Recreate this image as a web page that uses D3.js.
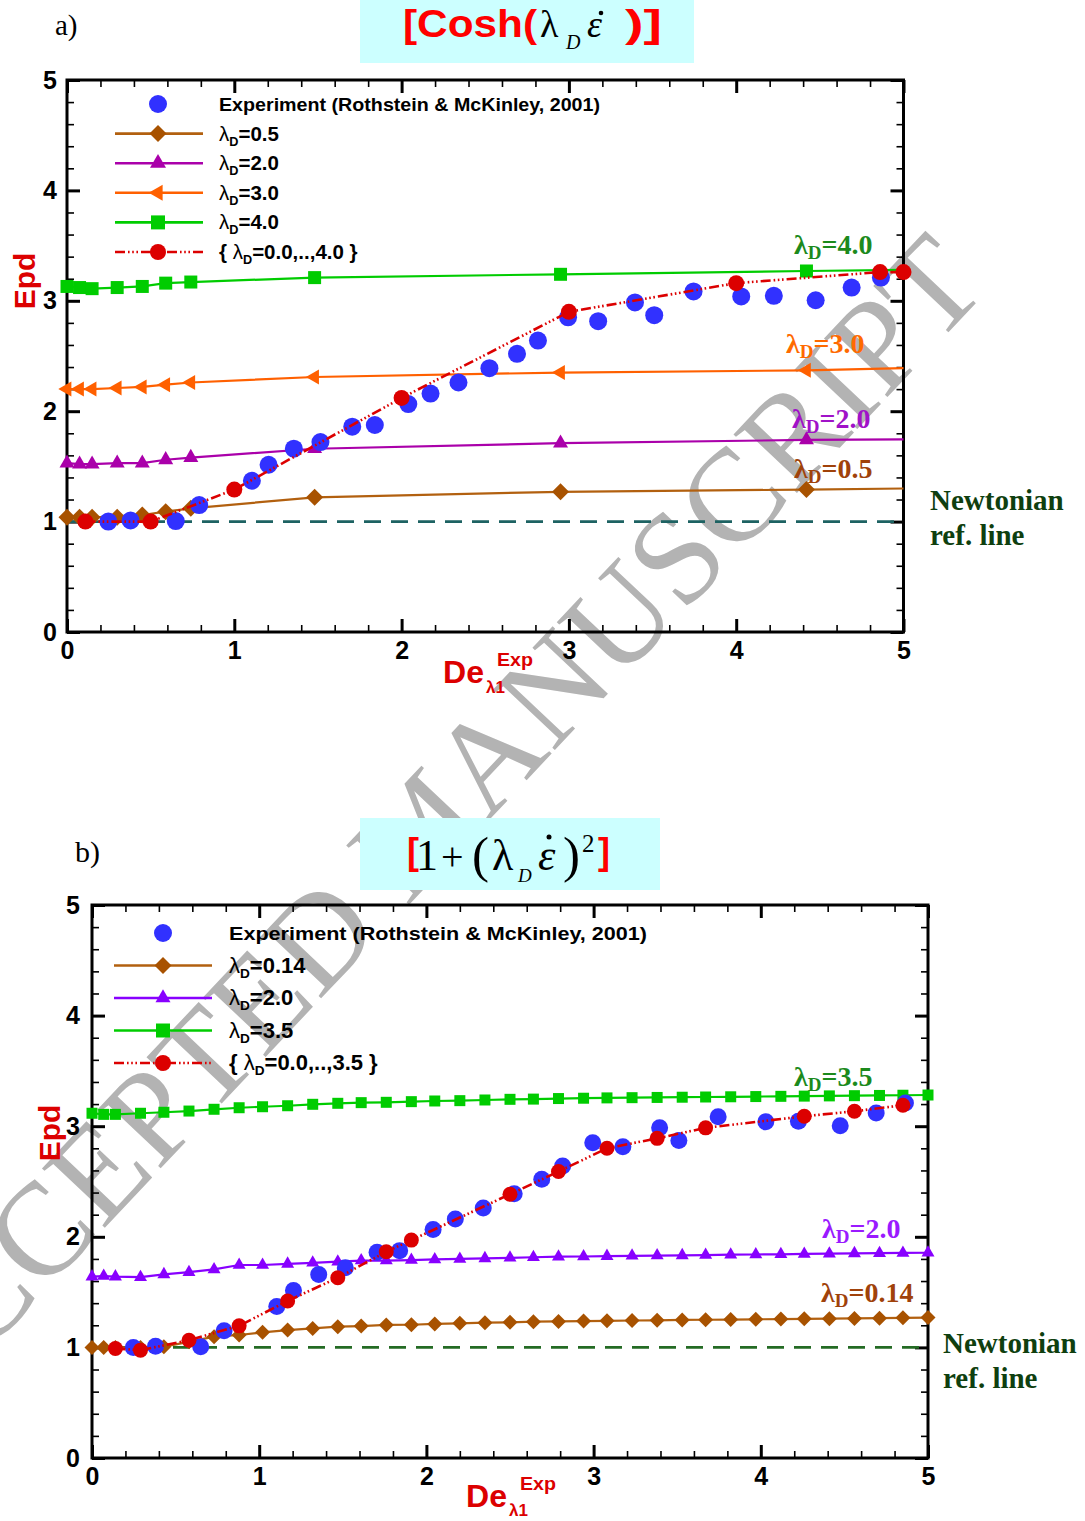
<!DOCTYPE html>
<html>
<head>
<meta charset="utf-8">
<script src="https://cdn.jsdelivr.net/npm/d3@7"></script>
<style>
  html, body { margin: 0; padding: 0; background: #fff; }
  svg { display: block; }
</style>
</head>
<body>
<svg id="fig" width="1085" height="1521"></svg>
<script>
// ---------- tick values ----------
const X_TICKS = [0, 1, 2, 3, 4, 5];
const Y_TICKS = [0, 1, 2, 3, 4, 5];

// ---------- experiment (Rothstein & McKinley, 2001) ----------
const expDe  = [0.247, 0.38, 0.65, 0.79, 1.105, 1.205, 1.356, 1.515, 1.705, 1.84, 2.04, 2.173, 2.34,
                2.525, 2.69, 2.815, 2.995, 3.175, 3.395, 3.51, 3.745, 4.03, 4.225, 4.475, 4.69, 4.865];
const expEpd = [1.00, 1.01, 1.005, 1.15, 1.37, 1.515, 1.66, 1.72, 1.86, 1.875, 2.065, 2.16, 2.26,
                2.39, 2.52, 2.64, 2.85, 2.815, 2.985, 2.87, 3.085, 3.04, 3.045, 3.005, 3.12, 3.21];

// ---------- (a) Cosh(lambda_D * strain rate) ----------
const coshDe  = [0, 0.075, 0.15, 0.3, 0.45, 0.59, 0.74, 1.48, 2.95, 4.42, 5.0];
const coshL05 = [1.04, 1.04, 1.04, 1.04, 1.06, 1.09, 1.12, 1.22, 1.27, 1.29, 1.30];
const coshL20 = [1.53, 1.52, 1.52, 1.53, 1.53, 1.56, 1.58, 1.66, 1.71, 1.74, 1.745];
const coshL30 = [2.20, 2.20, 2.20, 2.21, 2.22, 2.24, 2.26, 2.31, 2.35, 2.37, 2.39];
const coshL40 = [3.13, 3.12, 3.11, 3.12, 3.13, 3.16, 3.17, 3.21, 3.24, 3.27, 3.28];
const coshFitDe  = [0.11, 0.5, 1.0, 2.0, 3.0, 4.0, 4.86, 5.0];
const coshFitEpd = [1.0, 1.0, 1.29, 2.12, 2.90, 3.16, 3.26, 3.26];
const coshLabels = ["0.5", "2.0", "3.0", "4.0"];

// ---------- (b) 1 + (lambda_D * strain rate)^2 ----------
const quadDe = [0, 0.07, 0.14, 0.29, 0.43, 0.58, 0.73, 0.88, 1.02, 1.17, 1.32, 1.47, 1.61, 1.76, 1.91, 2.05,
                2.2, 2.35, 2.5, 2.64, 2.79, 2.94, 3.08, 3.23, 3.38, 3.53, 3.67, 3.82, 3.97, 4.12, 4.26,
                4.41, 4.56, 4.71, 4.85, 5.0];
const quadL014 = [0.998, 0.998, 1.0, 1.0, 1.007, 1.05, 1.097, 1.112, 1.136, 1.157, 1.172, 1.187, 1.193,
                  1.203, 1.205, 1.212, 1.218, 1.224, 1.227, 1.233, 1.235, 1.238, 1.24, 1.243, 1.245, 1.248,
                  1.25, 1.252, 1.254, 1.256, 1.258, 1.26, 1.262, 1.264, 1.267, 1.27];
const quadL20 = [1.64, 1.645, 1.64, 1.635, 1.66, 1.68, 1.705, 1.745, 1.745, 1.755, 1.765, 1.775, 1.785,
                 1.785, 1.79, 1.795, 1.80, 1.805, 1.81, 1.815, 1.82, 1.822, 1.825, 1.828, 1.83, 1.832,
                 1.835, 1.838, 1.84, 1.842, 1.845, 1.847, 1.85, 1.852, 1.854, 1.856];
const quadL35 = [3.117, 3.107, 3.107, 3.117, 3.126, 3.137, 3.153, 3.167, 3.176, 3.185, 3.198, 3.207, 3.213,
                 3.216, 3.222, 3.228, 3.231, 3.237, 3.243, 3.245, 3.25, 3.253, 3.256, 3.258, 3.26, 3.262,
                 3.264, 3.266, 3.268, 3.27, 3.272, 3.274, 3.276, 3.278, 3.28, 3.282];
const quadFitDe  = [0.14, 0.29, 0.58, 0.88, 1.17, 1.47, 1.76, 1.91, 2.5, 2.79, 3.08, 3.38, 3.67, 4.26, 4.56, 4.85];
const quadFitEpd = [0.99, 0.975, 1.065, 1.195, 1.42, 1.63, 1.865, 1.97, 2.385, 2.59, 2.80, 2.89, 2.985, 3.09, 3.135, 3.19];
const quadLabels = ["0.14", "2.0", "3.5"];

const EXP_LEGEND = "Experiment (Rothstein & McKinley, 2001)";
const NEWTONIAN = 1;

// ---------- fonts / colours ----------
const SANS = "'Liberation Sans', Arial, Helvetica, sans-serif";
const SERIF = "'Liberation Serif', 'Times New Roman', serif";
const BLUE = "#3131ff", RED = "#dc0000";

const svg = d3.select("#fig");
svg.append("rect").attr("width", 1085).attr("height", 1521).attr("fill", "#fff");

// ---------- marker shapes (centred on the data point) ----------
const markerPath = {
  square: s => `M${-s / 2},${-s / 2}h${s}v${s}h${-s}Z`,
  diamond: s => `M0,${-s / 2}L${s / 2},0L0,${s / 2}L${-s / 2},0Z`,
  triUp: s => { const h = s * 0.87; return `M0,${-2 * h / 3}L${s / 2},${h / 3}L${-s / 2},${h / 3}Z`; },
  triLeft: s => { const w = s * 0.87; return `M${-2 * w / 3},0L${w / 3},${-s / 2}L${w / 3},${s / 2}Z`; }
};

// ---------- watermark (underneath everything else) ----------
svg.append("text")
  .attr("transform", "translate(-84,1428) rotate(-46.7)")
  .attr("font-family", SERIF).attr("font-size", 132)
  .attr("fill", "#b3b3b3")
  .text("ACCEPTED MANUSCRIPT");

// ---------- title boxes ----------
svg.append("rect").attr("x", 360).attr("y", 0).attr("width", 334).attr("height", 63).attr("fill", "#ccffff");
svg.append("rect").attr("x", 360).attr("y", 818).attr("width", 300).attr("height", 72).attr("fill", "#ccffff");

// ---------- title (a) ----------
const ta = svg.append("g");
ta.append("text").attr("x", 55).attr("y", 35).attr("font-family", SERIF).attr("font-size", 29).attr("fill", "#000").text("a)");
ta.append("text").attr("x", 403).attr("y", 37).attr("font-family", SANS).attr("font-weight", "bold")
  .attr("font-size", 38).attr("fill", "#ff0000").attr("textLength", 134).attr("lengthAdjust", "spacingAndGlyphs").text("[Cosh(");
ta.append("text").attr("x", 540).attr("y", 37).attr("font-family", SERIF).attr("font-size", 38).attr("fill", "#000").text("λ");
ta.append("text").attr("x", 566).attr("y", 49).attr("font-family", SERIF).attr("font-style", "italic").attr("font-size", 20).attr("fill", "#000").text("D");
ta.append("text").attr("x", 587).attr("y", 37).attr("font-family", SERIF).attr("font-style", "italic").attr("font-size", 38).attr("fill", "#000").text("ε");
ta.append("circle").attr("cx", 601).attr("cy", 13).attr("r", 2.3).attr("fill", "#000");
ta.append("text").attr("x", 625).attr("y", 37).attr("font-family", SANS).attr("font-weight", "bold")
  .attr("font-size", 38).attr("fill", "#ff0000").attr("textLength", 37).attr("lengthAdjust", "spacingAndGlyphs").text(")]");

// ---------- title (b) ----------
const tb = svg.append("g");
tb.append("text").attr("x", 75).attr("y", 862).attr("font-family", SERIF).attr("font-size", 30).attr("fill", "#000").text("b)");
tb.append("text").attr("x", 407).attr("y", 864).attr("font-family", SANS).attr("font-weight", "bold").attr("font-size", 36).attr("fill", "#ff0000").text("[");
tb.append("text").attr("x", 416).attr("y", 870).attr("font-family", SERIF).attr("font-size", 44).attr("fill", "#000").text("1");
tb.append("text").attr("x", 441).attr("y", 870).attr("font-family", SERIF).attr("font-size", 40).attr("fill", "#000").text("+");
tb.append("text").attr("x", 472).attr("y", 872).attr("font-family", SERIF).attr("font-size", 51).attr("fill", "#000").text("(");
tb.append("text").attr("x", 492).attr("y", 870).attr("font-family", SERIF).attr("font-size", 44).attr("fill", "#000").text("λ");
tb.append("text").attr("x", 518).attr("y", 882).attr("font-family", SERIF).attr("font-style", "italic").attr("font-size", 19).attr("fill", "#000").text("D");
tb.append("text").attr("x", 538).attr("y", 870).attr("font-family", SERIF).attr("font-style", "italic").attr("font-size", 44).attr("fill", "#000").text("ε");
tb.append("circle").attr("cx", 549).attr("cy", 837).attr("r", 2.5).attr("fill", "#000");
tb.append("text").attr("x", 563).attr("y", 872).attr("font-family", SERIF).attr("font-size", 51).attr("fill", "#000").text(")");
tb.append("text").attr("x", 582).attr("y", 852).attr("font-family", SERIF).attr("font-size", 25).attr("fill", "#000").text("2");
tb.append("text").attr("x", 598).attr("y", 864).attr("font-family", SANS).attr("font-weight", "bold").attr("font-size", 36).attr("fill", "#ff0000").text("]");

// ---------- helpers ----------
function lamLabel(sel, x, y, pre, post, o) {
  const t = sel.append("text").attr("x", x).attr("y", y).attr("fill", o.fill)
    .attr("font-family", o.family).attr("font-weight", o.weight).attr("font-size", o.size);
  if (pre) t.append("tspan").text(pre);
  t.append("tspan").attr("font-family", o.lamFamily || o.family).attr("font-weight", o.lamWeight || o.weight).text("λ");
  t.append("tspan").attr("font-size", o.subSize).attr("dy", o.subDy).text("D");
  t.append("tspan").attr("dy", -o.subDy).text(post);
  return t;
}

function drawPanel(cfg) {
  const x = d3.scaleLinear().domain([0, 5]).range([cfg.x0, cfg.x1]);
  const y = d3.scaleLinear().domain([0, 5]).range([cfg.y0, cfg.y1]);
  const g = svg.append("g");
  const line = d3.line().x(d => x(d[0])).y(d => y(d[1]));

  // axes: major + minor inward ticks on all four sides
  const styleAxis = (ag, major) => {
    ag.select(".domain").remove();
    ag.selectAll(".tick line").attr("stroke", "#000").attr("stroke-width", major ? 3 : 1.6);
  };
  const minorX = x.ticks(25).filter(v => !X_TICKS.includes(v));
  const minorY = y.ticks(25).filter(v => !Y_TICKS.includes(v));
  const axes = g.append("g");
  const bottom = axes.append("g").attr("transform", `translate(0,${cfg.y0})`)
    .call(d3.axisBottom(x).tickValues(X_TICKS).tickSize(-13).tickPadding(cfg.xPad).tickFormat(d3.format("d")));
  styleAxis(bottom, true);
  bottom.attr("font-family", SANS).attr("font-weight", "bold").attr("font-size", 25);
  bottom.selectAll("text").attr("fill", "#000");
  const left = axes.append("g").attr("transform", `translate(${cfg.x0},0)`)
    .call(d3.axisLeft(y).tickValues(Y_TICKS).tickSize(-13).tickPadding(cfg.yPad).tickFormat(d3.format("d")));
  styleAxis(left, true);
  left.attr("font-family", SANS).attr("font-weight", "bold").attr("font-size", 25);
  left.selectAll("text").attr("fill", "#000");
  styleAxis(axes.append("g").attr("transform", `translate(0,${cfg.y1})`)
    .call(d3.axisTop(x).tickValues(X_TICKS).tickSize(-13).tickFormat("")), true);
  styleAxis(axes.append("g").attr("transform", `translate(${cfg.x1},0)`)
    .call(d3.axisRight(y).tickValues(Y_TICKS).tickSize(-13).tickFormat("")), true);
  styleAxis(axes.append("g").attr("transform", `translate(0,${cfg.y0})`)
    .call(d3.axisBottom(x).tickValues(minorX).tickSize(-7).tickFormat("")), false);
  styleAxis(axes.append("g").attr("transform", `translate(0,${cfg.y1})`)
    .call(d3.axisTop(x).tickValues(minorX).tickSize(-7).tickFormat("")), false);
  styleAxis(axes.append("g").attr("transform", `translate(${cfg.x0},0)`)
    .call(d3.axisLeft(y).tickValues(minorY).tickSize(-7).tickFormat("")), false);
  styleAxis(axes.append("g").attr("transform", `translate(${cfg.x1},0)`)
    .call(d3.axisRight(y).tickValues(minorY).tickSize(-7).tickFormat("")), false);
  g.append("rect").attr("x", cfg.x0).attr("y", cfg.y1).attr("width", cfg.x1 - cfg.x0).attr("height", cfg.y0 - cfg.y1)
    .attr("fill", "none").attr("stroke", "#000").attr("stroke-width", 3);

  // Newtonian reference
  g.append("path").attr("d", line([[0, NEWTONIAN], [5, NEWTONIAN]]))
    .attr("stroke", cfg.newtColor).attr("stroke-width", 2.6).attr("stroke-dasharray", "17,10").attr("fill", "none");

  // model curves
  cfg.series.forEach(s => {
    const pts = cfg.de.map((d, i) => [d, s.vals[i]]);
    g.append("path").attr("d", line(pts)).attr("fill", "none").attr("stroke", s.color).attr("stroke-width", 2.2);
    const mp = cfg.markLast ? pts : pts.slice(0, -1);
    g.append("g").selectAll("path").data(mp).join("path")
      .attr("transform", d => `translate(${x(d[0])},${y(d[1])})`)
      .attr("d", markerPath[s.marker](s.size)).attr("fill", s.fill);
  });

  // experiment
  g.append("g").selectAll("circle").data(expDe.map((d, i) => [d, expEpd[i]])).join("circle")
    .attr("cx", d => x(d[0])).attr("cy", d => y(d[1])).attr("r", cfg.expR).attr("fill", BLUE);

  // variable lambda_D fit
  const fit = cfg.fitDe.map((d, i) => [d, cfg.fitEpd[i]]);
  g.append("path").attr("d", line(fit)).attr("fill", "none").attr("stroke", RED)
    .attr("stroke-width", 2.6).attr("stroke-dasharray", "10,3,1.6,2.6,1.6,2.6,1.6,3");
  g.append("g").selectAll("circle").data(fit).join("circle")
    .attr("cx", d => x(d[0])).attr("cy", d => y(d[1])).attr("r", cfg.fitR).attr("fill", RED);

  // legend
  const L = cfg.legend;
  const lg = g.append("g");
  const rowY = i => L.y0 + i * L.dy;
  lg.append("circle").attr("cx", L.xm).attr("cy", rowY(0)).attr("r", 9).attr("fill", BLUE);
  lg.append("text").attr("x", L.xt).attr("y", rowY(0) + 7).attr("font-family", SANS).attr("font-weight", "bold")
    .attr("font-size", 19).attr("textLength", L.tl).attr("lengthAdjust", "spacingAndGlyphs").attr("fill", "#000").text(EXP_LEGEND);
  const lamOpts = { fill: "#000", family: SANS, weight: "bold", size: L.fs, lamWeight: "normal", subSize: L.fs * 0.62, subDy: 5 };
  cfg.series.forEach((s, i) => {
    const yy = rowY(i + 1);
    lg.append("line").attr("x1", L.x0).attr("x2", L.x1).attr("y1", yy).attr("y2", yy).attr("stroke", s.color).attr("stroke-width", 2.6);
    lg.append("path").attr("transform", `translate(${L.xm},${yy})`).attr("d", markerPath[s.marker](s.legSize)).attr("fill", s.fill);
    lamLabel(lg, L.xt, yy + 7, "", "=" + s.label, lamOpts);
  });
  const fy = rowY(cfg.series.length + 1);
  lg.append("line").attr("x1", L.x0).attr("x2", L.x1).attr("y1", fy).attr("y2", fy).attr("stroke", RED)
    .attr("stroke-width", 2.6).attr("stroke-dasharray", "10,3,1.6,2.6,1.6,2.6,1.6,3");
  lg.append("circle").attr("cx", L.xm).attr("cy", fy).attr("r", 8).attr("fill", RED);
  lamLabel(lg, L.xt, fy + 7, "{ ", "=" + cfg.fitLabel + " }", lamOpts);

  // curve labels on the right
  const rOpts = { family: SERIF, weight: "bold", size: 28, subSize: 19, subDy: 5 };
  cfg.tags.forEach(t => lamLabel(g, t.x, t.y, "", "=" + t.label, Object.assign({ fill: t.color }, rOpts)));
  g.append("text").attr("x", cfg.newt.x).attr("y", cfg.newt.y1).attr("font-family", SERIF).attr("font-weight", "bold")
    .attr("font-size", 29).attr("fill", "#0f3f0f").text("Newtonian");
  g.append("text").attr("x", cfg.newt.x).attr("y", cfg.newt.y2).attr("font-family", SERIF).attr("font-weight", "bold")
    .attr("font-size", 29).attr("fill", "#0f3f0f").text("ref. line");

  // axis titles
  const xl = cfg.xlab;
  g.append("text").attr("x", xl.x).attr("y", xl.y).attr("font-family", SANS).attr("font-weight", "bold")
    .attr("font-size", 31).attr("textLength", 41).attr("lengthAdjust", "spacingAndGlyphs").attr("fill", RED).text("De");
  g.append("text").attr("x", xl.x + 43).attr("y", xl.y + xl.subDy).attr("font-family", SANS).attr("font-weight", "bold")
    .attr("font-size", 17).attr("fill", RED).text("λ1");
  g.append("text").attr("x", xl.x + 54).attr("y", xl.y - 17).attr("font-family", SANS).attr("font-weight", "bold")
    .attr("font-size", 18).attr("textLength", 36).attr("lengthAdjust", "spacingAndGlyphs").attr("fill", RED).text("Exp");
  g.append("text").attr("transform", `translate(${cfg.ylab.x},${cfg.ylab.y}) rotate(-90)`)
    .attr("text-anchor", "middle").attr("font-family", SANS).attr("font-weight", "bold")
    .attr("font-size", 30).attr("fill", RED).text("Epd");
}

// ---------- panel (a) ----------
drawPanel({
  x0: 67, x1: 903.5, y0: 632, y1: 80, xPad: 9, yPad: 10,
  de: coshDe, markLast: false,
  newtColor: "#1d6262",
  series: [
    { vals: coshL05, label: coshLabels[0], color: "#b2600f", fill: "#a85200", marker: "diamond", size: 17, legSize: 17 },
    { vals: coshL20, label: coshLabels[1], color: "#aa00aa", fill: "#aa00aa", marker: "triUp", size: 15, legSize: 16 },
    { vals: coshL30, label: coshLabels[2], color: "#ff6000", fill: "#ff6000", marker: "triLeft", size: 15, legSize: 16 },
    { vals: coshL40, label: coshLabels[3], color: "#00cc00", fill: "#00cc00", marker: "square", size: 13, legSize: 14 }
  ],
  expR: 9, fitR: 8,
  fitDe: coshFitDe, fitEpd: coshFitEpd, fitLabel: "0.0,..,4.0",
  legend: { x0: 115, x1: 203, xm: 158, xt: 219, y0: 104, dy: 29.6, tl: 381, fs: 20.5 },
  tags: [
    { x: 794, y: 254, label: coshLabels[3], color: "#1c8a1c" },
    { x: 786, y: 353, label: coshLabels[2], color: "#ff6a00" },
    { x: 792, y: 428, label: coshLabels[1], color: "#a012c8" },
    { x: 794, y: 478, label: coshLabels[0], color: "#a0420a" }
  ],
  newt: { x: 930, y1: 510, y2: 545 },
  xlab: { x: 443, y: 683, subDy: 10 },
  ylab: { x: 35, y: 281 }
});

// ---------- panel (b) ----------
drawPanel({
  x0: 92, x1: 928, y0: 1458, y1: 905, xPad: 9, yPad: 12,
  de: quadDe, markLast: true,
  newtColor: "#246b24",
  series: [
    { vals: quadL014, label: quadLabels[0], color: "#b2600f", fill: "#a85200", marker: "diamond", size: 15, legSize: 17 },
    { vals: quadL20, label: quadLabels[1], color: "#8800ff", fill: "#8800ff", marker: "triUp", size: 13, legSize: 15 },
    { vals: quadL35, label: quadLabels[2], color: "#00cc00", fill: "#00cc00", marker: "square", size: 11, legSize: 14 }
  ],
  expR: 8.5, fitR: 7.5,
  fitDe: quadFitDe, fitEpd: quadFitEpd, fitLabel: "0.0,..,3.5",
  legend: { x0: 114, x1: 212, xm: 163, xt: 229, y0: 933, dy: 32.5, tl: 418, fs: 22 },
  tags: [
    { x: 794, y: 1086, label: quadLabels[2], color: "#1c8a1c" },
    { x: 822, y: 1238, label: quadLabels[1], color: "#9a1aff" },
    { x: 821, y: 1302, label: quadLabels[0], color: "#a0420a" }
  ],
  newt: { x: 943, y1: 1353, y2: 1388 },
  xlab: { x: 466, y: 1507, subDy: 9 },
  ylab: { x: 60, y: 1133 }
});
</script>
</body>
</html>
